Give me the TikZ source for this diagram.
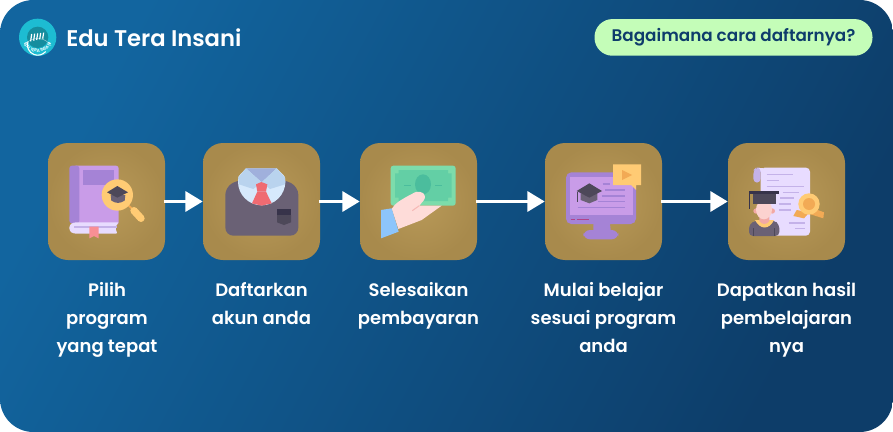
\documentclass[tikz,border=0pt]{standalone}
\usepackage{fontspec}
\setmainfont{Poppins}
\newfontfamily\popmed{Poppins Medium}
\newfontfamily\popsemi{Poppins SemiBold}
\usetikzlibrary{arrows.meta}
\usetikzlibrary{positioning}
\usetikzlibrary{decorations.text}

\definecolor{bgstart}{HTML}{12659F}
\definecolor{bgend}{HTML}{0D3D69}
\definecolor{tileinner}{HTML}{B99A59}
\definecolor{tileouter}{HTML}{A88A4C}
\definecolor{pillgreen}{HTML}{C4FDB8}
\definecolor{navytext}{HTML}{0E3C6B}
\definecolor{logocyan}{HTML}{1DBCD2}
\definecolor{purpledark}{HTML}{A583D6}
\definecolor{purplelight}{HTML}{C99CE8}
\definecolor{lavender}{HTML}{E8DCFF}
\definecolor{lavenderdark}{HTML}{C4B2E9}
\definecolor{pinkmark}{HTML}{F98F95}
\definecolor{yellowicon}{HTML}{FFCB74}
\definecolor{orangeicon}{HTML}{F2AA55}
\definecolor{greyicon}{HTML}{6A6175}
\definecolor{greydark}{HTML}{4D4859}
\definecolor{greydeep}{HTML}{37334A}
\definecolor{shirtlight}{HTML}{D6E9FC}
\definecolor{shirtmid}{HTML}{B9D3EE}
\definecolor{shirtback}{HTML}{A0B0DC}
\definecolor{tiered}{HTML}{EF6B72}
\definecolor{notegreen}{HTML}{7DDCAB}
\definecolor{notemid}{HTML}{63CFA5}
\definecolor{notedark}{HTML}{4BBD9D}
\definecolor{skinlight}{HTML}{FEDCD9}
\definecolor{skinmid}{HTML}{F2A9A5}
\definecolor{sleeveblue}{HTML}{8DC5FB}

\tikzset{
  tilebox/.style={minimum size=87.75pt, inner sep=0pt, rounded corners=15pt,
    inner color=tileinner, outer color=tileouter},
  steplabel/.style={text=white, align=center, font=\popsemi\fontsize{13.5pt}{21pt}\selectfont,
    inner sep=0pt, anchor=north},
  steparrow/.style={draw=white, line width=2.4pt,
    -{Triangle[length=13pt, width=15pt]}, shorten <=-1pt},
  zoomed/.style={x=0.25pt, y=-0.25pt}
}

\begin{document}
\begin{tikzpicture}[x=0.75pt, y=-0.75pt]
      \useasboundingbox (0, 0) rectangle (893, 432);
      \shade[top color=bgstart, bottom color=bgend, shading angle=62, rounded corners=25pt]
        (0, 0) rectangle (893, 432);

      \begin{scope}[shift={(14, 14)}, zoomed]
        \fill[logocyan] (71, 70) circle (56);
        \fill[logocyan!75!black] (71, 70) circle (32);
        \draw[white, line width=0.8pt] (42, 82) arc[start angle=200, end angle=40, radius=31];
        \foreach \i in {0, 1, 2, 3, 4}
          \draw[white, line width=0.9pt] (50 + \i * 9, 82 - \i * 2) -- (53 + \i * 9, 60 - \i);
        \draw[white, opacity=0.5, line width=0.4pt] (30, 96) arc[start angle=212, end angle=328, radius=48];
        \path[decorate, decoration={text along path, text align=center,
          text={|\popsemi\fontsize{3.2pt}{3pt}\selectfont\color{white}|EDU TERA INSANI}}]
          (26, 70) arc[start angle=180, end angle=0, radius=45];
      \end{scope}
      \node[text=white, font=\popsemi\fontsize{17pt}{22pt}\selectfont, inner sep=0pt, anchor=west]
        (brand) at (66, 37.5) {Edu Tera Insani};

      \node[fill=pillgreen, rounded corners=13.5pt, minimum width=208.5pt, minimum height=27.5pt,
        text=navytext, font=\popsemi\fontsize{12.6pt}{15pt}\selectfont, inner sep=0pt]
        (question) at (733.5, 37.4) {Bagaimana cara daftarnya?};

      \node[tilebox] (pilih) at (106.5, 201.5) {};
      \node[tilebox] (daftar) at (261.5, 201.5) {};
      \node[tilebox] (bayar) at (418.5, 201.5) {};
      \node[tilebox] (belajar) at (603.5, 201.5) {};
      \node[tilebox] (hasil) at (786.5, 201.5) {};

      \draw[steparrow] (pilih) -- (daftar);
      \draw[steparrow] (daftar) -- (bayar);
      \draw[steparrow] (bayar) -- (belajar);
      \draw[steparrow] (belajar) -- (hasil);

      \node[steplabel] (pilihtext) at (107, 282) {Pilih\\program\\yang tepat};
      \node[steplabel] (daftartext) at (261.5, 282) {Daftarkan\\akun anda};
      \node[steplabel] (bayartext) at (418.5, 282) {Selesaikan\\pembayaran};
      \node[steplabel] (belajartext) at (603.5, 282) {Mulai belajar\\sesuai program\\anda};
      \node[steplabel] (hasiltext) at (786.5, 282) {Dapatkan hasil\\pembelajaran\\nya};

      \begin{scope}[shift={(40, 135)}, zoomed]
        \fill[purplelight, rounded corners=2pt] (100, 92) rectangle (236, 270);
        \fill[purpledark, rounded corners=2pt] (88, 265) -- (88, 92) -- (118, 92) -- (118, 265) -- cycle;
        \fill[purpledark] (130, 105) rectangle (222, 150);
        \fill[lavender, rounded corners=2pt] (235, 262) -- (100, 262) -- (88, 270) -- (88, 288) -- (100, 296) -- (235, 296)
          .. controls (226, 285) and (226, 273) .. (235, 262);
        \fill[lavenderdark] (102, 272) rectangle (232, 280);
        \fill[pinkmark] (148, 275) -- (176, 275) -- (176, 310) -- (162, 303) -- (148, 310) -- cycle;
        \draw[orangeicon, line width=1.4pt] (262, 208) -- (280, 225);
        \draw[yellowicon, line width=5.5pt, line cap=round] (282, 227) -- (303, 250);
        \fill[yellowicon] (232, 180) circle (47);
        \fill[greyicon] (212, 180) -- (214, 197) .. controls (228, 206) and (240, 206) .. (254, 197) -- (256, 180) -- cycle;
        \fill[greydark] (201, 172) -- (232, 153) -- (264, 172) -- (232, 188) -- cycle;
      \end{scope}

      \begin{scope}[shift={(40, 135)}, zoomed]
        \fill[greyicon, rounded corners=6pt] (556, 155) -- (600, 133) -- (730, 133) -- (775, 155) -- (775, 302) -- (556, 302) -- cycle;
        \begin{scope}
          \clip (618, 100) -- (710, 100) -- (740, 130) -- (740, 215) -- (590, 215) -- (590, 130) -- cycle;
          \fill[shirtlight] (665, 140) circle (71);
        \end{scope}
        \fill[shirtback] (618, 100) -- (710, 100) -- (665, 142) -- cycle;
        \fill[shirtmid] (618, 100) -- (595, 128) -- (597, 148) -- (640, 162) -- (665, 142) -- cycle;
        \fill[shirtmid] (710, 100) -- (735, 128) -- (735, 148) -- (690, 162) -- (665, 142) -- cycle;
        \fill[tiered] (648, 148) -- (664, 141) -- (682, 148) -- (678, 170) -- (652, 170) -- cycle;
        \fill[tiered] (652, 170) -- (678, 170) -- (695, 205) -- (665, 212) -- (636, 205) -- cycle;
        \fill[greydark] (711, 240) -- (753, 240) -- (753, 262) -- (732, 270) -- (711, 262) -- cycle;
        \fill[greydeep] (711, 222) rectangle (753, 240);
      \end{scope}

      \begin{scope}[shift={(350, 135)}, zoomed]
        \fill[notegreen, rounded corners=2pt] (122, 92) rectangle (317, 212);
        \fill[notemid] (146, 105) -- (294, 105) -- (294, 115) -- (305, 115) -- (305, 188) -- (294, 188) -- (294, 198)
          -- (146, 198) -- (146, 188) -- (135, 188) -- (135, 115) -- (146, 115) -- cycle;
        \fill[notedark] (219, 148) ellipse (24 and 30);
        \draw[notedark, line width=0.7pt] (162, 151) -- (184, 151);
        \draw[notedark, line width=0.7pt] (255, 151) -- (275, 151);
        \fill[skinlight] (125, 222) .. controls (135, 205) and (150, 195) .. (195, 172)
          .. controls (215, 165) and (232, 178) .. (222, 195) -- (208, 212) -- (275, 212) -- (215, 255) -- (145, 282) -- cycle;
        \draw[skinmid!70!skinlight, line width=0.8pt] (187, 227) -- (208, 212);
        \fill[sleeveblue] (93, 225) -- (125, 220) -- (146, 290) -- (93, 310) -- cycle;
      \end{scope}

      \begin{scope}[shift={(350, 135)}, zoomed]
        \fill[purpledark, rounded corners=4pt] (648, 112) rectangle (858, 267);
        \fill[purplelight] (660, 125) rectangle (848, 240);
        \fill[purpledark] (730, 267) -- (780, 267) -- (782, 285) -- (730, 285) -- cycle;
        \fill[purpledark, rounded corners=5pt] (700, 313) -- (700, 285) -- (805, 285) -- (805, 313) -- cycle;
        \foreach \xa/\xb/\ya in {758/780/147, 765/826/165, 755/826/183, 745/826/200, 683/826/218}
          \draw[purpledark, line width=1.2pt] (\xa, \ya) -- (\xb, \ya);
        \draw[purple!50!purpledark, line width=1pt] (662, 253) -- (675, 253);
        \draw[purple!50!purpledark, line width=1pt] (680, 253) -- (718, 253);
        \fill[greyicon] (692, 175) -- (692, 195) -- (718, 205) -- (742, 195) -- (742, 175) -- cycle;
        \fill[greydark] (680, 168) -- (718, 145) -- (756, 168) -- (718, 188) -- cycle;
        \draw[greydark, line width=0.8pt] (682, 170) -- (682, 200);
        \fill[yellowicon] (789, 88) -- (873, 88) -- (873, 150) -- (858, 150) -- (858, 165) -- (843, 150) -- (789, 150) -- cycle;
        \fill[orangeicon] (816, 105) -- (846, 120) -- (816, 135) -- cycle;
      \end{scope}

      \begin{scope}[shift={(650, 135)}, zoomed]
        \fill[lavender, rounded corners=3pt] (332, 98) -- (480, 98) -- (480, 302) -- (332, 302) -- cycle;
        \fill[lavender] (320, 98) rectangle (340, 110);
        \fill[lavenderdark, rounded corners=3pt] (332, 98) -- (318, 98) -- (310, 106) -- (310, 143) -- (332, 143) -- cycle;
        \foreach \xa/\xb/\ya in {350/430/119, 350/388/137, 350/462/155, 398/448/172, 390/432/189, 386/422/207, 386/422/225, 416/465/264, 435/465/281}
          \draw[lavenderdark, line width=1.2pt] (\xa, \ya) -- (\xb, \ya);
        \fill[orangeicon] (440, 225) -- (430, 243) -- (462, 250) -- (478, 232) -- cycle;
        \fill[orangeicon] (495, 222) -- (522, 232) -- (520, 250) -- (482, 238) -- cycle;
        \fill[yellowicon] (477, 207) circle (32);
        \fill[orangeicon] (477, 207) circle (18);
        \fill[greyicon, rounded corners=3pt] (297, 303) -- (297, 268) -- (318, 256) -- (372, 256) -- (388, 268) -- (388, 303) -- cycle;
        \draw[greydark, line width=0.8pt] (311, 280) -- (311, 303);
        \draw[greydark, line width=0.8pt] (374, 280) -- (374, 303);
        \fill[yellowicon] (315, 255) .. controls (330, 285) and (358, 285) .. (372, 255) -- cycle;
        \fill[skinmid] (328, 245) -- (358, 245) -- (358, 258) .. controls (350, 270) and (336, 270) .. (328, 258) -- cycle;
        \fill[skinmid] (318, 228) circle (8);
        \fill[skinmid] (367, 228) circle (8);
        \fill[skinlight!80!skinmid] (342, 224) ellipse (24 and 29);
        \fill[greydark] (308, 175) rectangle (378, 208);
        \fill[greydeep] (297, 168) rectangle (388, 176);
        \draw[greydeep, line width=1pt] (299, 170) -- (299, 222);
      \end{scope}
    \end{tikzpicture}
\end{document}
